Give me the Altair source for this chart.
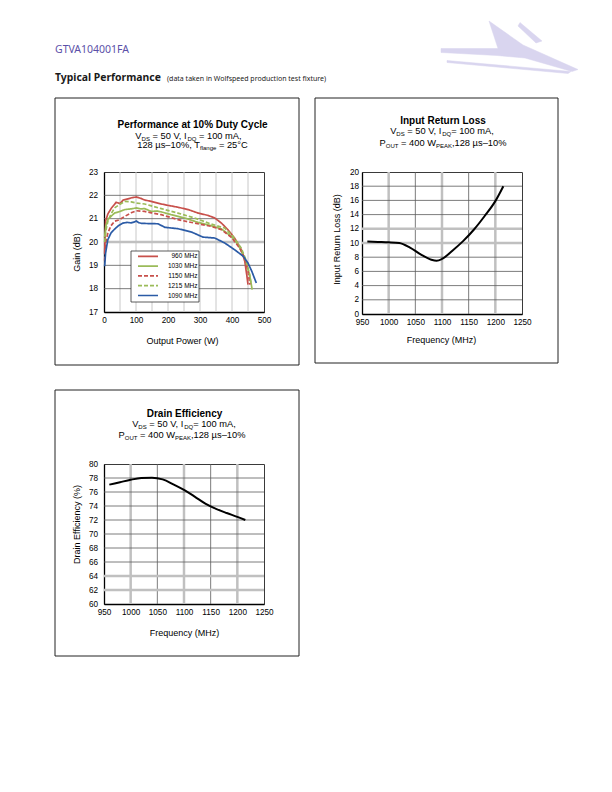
import altair as alt
import pandas as pd

FONT = "Liberation Sans"

# ------------------------------------------------------------------ data
gain_series = ["960 MHz", "1030 MHz", "1150 MHz", "1215 MHz", "1090 MHz"]

power_960 = [2, 5, 12, 23, 38, 50, 60, 75, 88, 101, 115, 127, 148, 179, 200, 231, 263, 294, 325, 346, 367, 387, 408, 429, 440, 446, 450]
gain_960 = [19.5, 20.9, 21.2, 21.45, 21.7, 21.65, 21.8, 21.85, 21.9, 21.93, 21.87, 21.8, 21.74, 21.63, 21.57, 21.49, 21.39, 21.24, 21.14, 21.03, 20.81, 20.53, 20.17, 19.67, 19.17, 18.6, 18.17]

power_1030 = [2, 6, 12, 22, 33, 48, 65, 85, 101, 115, 127, 148, 165, 179, 210, 252, 294, 335, 367, 398, 419, 440, 455, 463]
gain_1030 = [20.2, 20.7, 20.96, 21.1, 21.24, 21.3, 21.39, 21.42, 21.46, 21.42, 21.43, 21.31, 21.33, 21.29, 21.17, 21.03, 20.84, 20.7, 20.56, 20.24, 19.89, 19.31, 18.6, 17.96]

power_1150 = [2, 6, 12, 22, 33, 48, 65, 85, 101, 127, 148, 179, 231, 283, 335, 367, 398, 424, 440, 450, 456]
gain_1150 = [19.2, 20.0, 20.39, 20.7, 20.89, 20.95, 21.1, 21.25, 21.34, 21.31, 21.25, 21.17, 20.96, 20.81, 20.67, 20.53, 20.2, 19.74, 19.31, 18.74, 18.17]

power_1215 = [2, 6, 12, 22, 33, 48, 65, 85, 101, 127, 148, 179, 231, 283, 335, 377, 403, 429, 445, 455, 460]
gain_1215 = [20.0, 20.5, 20.89, 21.2, 21.46, 21.6, 21.74, 21.72, 21.67, 21.63, 21.55, 21.43, 21.24, 21.03, 20.77, 20.6, 20.24, 19.74, 19.17, 18.6, 18.17]

power_1090 = [2, 5, 12, 22, 33, 45, 59, 72, 85, 95, 101, 108, 117, 140, 169, 190, 231, 273, 309, 346, 377, 408, 435, 450, 462, 476]
gain_1090 = [18.96, 19.53, 20.1, 20.39, 20.55, 20.7, 20.81, 20.84, 20.82, 20.86, 20.9, 20.83, 20.8, 20.79, 20.78, 20.63, 20.57, 20.43, 20.21, 20.17, 19.96, 19.67, 19.39, 19.1, 18.74, 18.24]

irl_freq = [960, 980, 1000, 1020, 1040, 1060, 1080, 1090, 1100, 1120, 1140, 1160, 1180, 1200, 1215]
irl_db = [10.2, 10.15, 10.1, 10.0, 9.35, 8.4, 7.65, 7.5, 7.75, 8.95, 10.3, 11.9, 13.8, 15.9, 18.0]

de_freq = [960, 980, 1000, 1020, 1040, 1060, 1080, 1100, 1120, 1140, 1160, 1180, 1200, 1215]
de_pct = [77.05, 77.4, 77.75, 78.0, 78.05, 77.8, 77.1, 76.3, 75.35, 74.35, 73.6, 73.0, 72.45, 72.0]

# tick values
gain_x_ticks = [0, 100, 200, 300, 400, 500]
gain_y_ticks = [17, 18, 19, 20, 21, 22, 23]
freq_ticks = [950, 1000, 1050, 1100, 1150, 1200, 1250]
irl_y_ticks = [0, 2, 4, 6, 8, 10, 12, 14, 16, 18, 20]
de_y_ticks = [60, 62, 64, 66, 68, 70, 72, 74, 76, 78, 80]

# grid line values
gain_vgrid = [50, 100, 150, 200, 250, 300, 350, 400, 450]
gain_hgrid_dark = [18, 19, 21, 22]
gain_hgrid_thick = [20]
freq_grid_thick = [1000, 1100, 1200]
freq_grid_thin = [1050, 1150]
irl_grid_thick = [10, 12]
irl_grid_thin = [2, 4, 6, 8, 14, 16, 18]
de_grid_thick = [62, 64]
de_grid_thin = [66, 68, 70, 72, 74, 76, 78]

# styles
series_colors = ["#c8504b", "#9bbb59", "#c8504b", "#9bbb59", "#2b5ba6"]
series_dash = [[1, 0], [1, 0], [4, 2], [4, 2], [1, 0]]
THICK_GREY = "#c0c0c0"
THIN_DARK = "#5a5a5a"
LOGO_PATH = ("M48,5 L82,29 L137,53.5 L131,55.5 L84,42 L56,39.5 L0,36.5 L0,32.5 L57,32.5 Z "
             "M79,6.5 L101,25 L95,27 L77,10 Z "
             "M6,44.5 L130,55.5 L127,57.5 L6,46.5 Z")

# ------------------------------------------------------------------ helpers
ARIAL = {' ': 278, '=': 584, ',': 278, '.': 278, '%': 889, '°': 400, 'µ': 576, '–': 556,
         '(': 333, ')': 333, 'A': 667, 'B': 667, 'C': 722, 'D': 722, 'E': 667, 'F': 611,
         'G': 778, 'H': 722, 'I': 278, 'K': 667, 'L': 556, 'M': 833, 'O': 778, 'P': 667,
         'Q': 778, 'R': 722, 'S': 667, 'T': 611, 'U': 722, 'V': 667, 'W': 944, 'a': 556,
         'c': 500, 'e': 556, 'f': 278, 'g': 556, 'l': 222, 'm': 833, 'n': 556, 's': 500,
         't': 278, 'y': 500, 'u': 556, 'o': 556, 'r': 333, 'i': 222, 'd': 556, 'p': 556,
         'w': 722, 'k': 500}
for _d in "0123456789":
    ARIAL[_d] = 556


def tw(s, fs):
    return sum(ARIAL.get(c, 556) for c in s) * fs / 1000.0


ONE = pd.DataFrame({"k": [0]})


def txt(x, y, s, size, weight="normal", align="left", color="black", font=FONT, baseline="alphabetic"):
    return alt.Chart(ONE).mark_text(
        align=align, baseline=baseline, fontSize=size, fontWeight=weight, font=font, color=color
    ).encode(x=alt.value(x), y=alt.value(y), text=alt.value(s))


def rich_line(segs, cx, yb, size=9.3, sub_size=6.0, sub_shift=2.0):
    total = sum(tw(t, sub_size if sb else size) for t, sb in segs)
    x = cx - total / 2
    out = []
    for t, sb in segs:
        fs = sub_size if sb else size
        lead = len(t) - len(t.lstrip(' '))
        x += lead * 278 * fs / 1000.0
        body = t.strip(' ')
        if body:
            out.append(txt(x, yb + (sub_shift if sb else 0), body, fs))
        x += tw(t.lstrip(' '), fs)
    return out


def border(x1, y1, x2, y2):
    return alt.Chart(ONE).mark_rect(filled=False, stroke="#222222", strokeWidth=1).encode(
        x=alt.value(x1), x2=alt.value(x2), y=alt.value(y1), y2=alt.value(y2))


def vrules(vals, xscale, xaxis, color, width, h):
    return alt.Chart(pd.DataFrame({"v": vals})).mark_rule(color=color, strokeWidth=width).encode(
        x=alt.X("v:Q", scale=xscale, axis=xaxis), y=alt.value(0), y2=alt.value(h))


def hrules(vals, yscale, yaxis, color, width, w):
    return alt.Chart(pd.DataFrame({"v": vals})).mark_rule(color=color, strokeWidth=width).encode(
        y=alt.Y("v:Q", scale=yscale, axis=yaxis), x=alt.value(0), x2=alt.value(w))


def x_axis(vals, title, tx, ty):
    return alt.Axis(values=vals, title=title, titleX=tx, titleY=ty, titleAlign="center",
                    titleBaseline="alphabetic", labelPadding=4, format="d",
                    labelOverlap=False, labelFlush=False)


def y_axis(vals, title, tx, ty, pad):
    return alt.Axis(values=vals, title=title, titleX=tx, titleY=ty, titleAngle=-90,
                    titleAlign="center", titleBaseline="middle", labelPadding=pad,
                    format="d", labelOverlap=False, labelFlush=False)


# ------------------------------------------------------------------ panel 1: gain
W1, H1 = 160, 140
g_xs = alt.Scale(domain=[0, 500], nice=False)
g_ys = alt.Scale(domain=[17, 23], nice=False, zero=False)
g_xa = x_axis(gain_x_ticks, "Output Power (W)", 78, 31)
g_ya = y_axis(gain_y_ticks, "Gain (dB)", -28, 80, 6.5)

gain_df = pd.concat([
    pd.DataFrame({"series": gain_series[0], "power": power_960, "gain": gain_960}),
    pd.DataFrame({"series": gain_series[1], "power": power_1030, "gain": gain_1030}),
    pd.DataFrame({"series": gain_series[2], "power": power_1150, "gain": gain_1150}),
    pd.DataFrame({"series": gain_series[3], "power": power_1215, "gain": gain_1215}),
    pd.DataFrame({"series": gain_series[4], "power": power_1090, "gain": gain_1090}),
])

gain_lines = alt.Chart(gain_df).mark_line(strokeWidth=1.7).encode(
    x=alt.X("power:Q", scale=g_xs, axis=g_xa),
    y=alt.Y("gain:Q", scale=g_ys, axis=g_ya),
    color=alt.Color("series:N", scale=alt.Scale(domain=gain_series, range=series_colors), legend=None),
    strokeDash=alt.StrokeDash("series:N", scale=alt.Scale(domain=gain_series, range=series_dash), legend=None),
    detail="series:N",
)

legend_layers = [alt.Chart(ONE).mark_rect(fill="white", stroke="#333333", strokeWidth=0.8).encode(
    x=alt.value(27), x2=alt.value(95), y=alt.value(79), y2=alt.value(130))]
for i, name in enumerate(gain_series):
    ly = 84.3 + i * 9.8
    legend_layers.append(alt.Chart(ONE).mark_rule(
        color=series_colors[i], strokeDash=series_dash[i], strokeWidth=1.7).encode(
        x=alt.value(34), x2=alt.value(54), y=alt.value(ly)))
    legend_layers.append(txt(93.5, ly, name, 6.5, align="right", baseline="middle"))

p1_text = [
    alt.Chart(ONE).mark_rect(fill="white", opacity=0.01).encode(
        x=alt.value(-95), x2=alt.value(-94), y=alt.value(-163), y2=alt.value(-162)),
    alt.Chart(ONE).mark_point(shape=LOGO_PATH, size=4, filled=True, fill="#d9d5ef",
                              stroke="#d9d5ef", strokeWidth=0.5, opacity=1).encode(
        x=alt.value(337), y=alt.value(-156)),
    txt(-49, -119.5, "GTVA104001FA", 10.5, color="#5b50a8", font="Noto Sans"),
    txt(-49, -91, "Typical Performance", 10.4, weight="bold", color="#1a1a1a", font="Noto Sans"),
    txt(63, -91, "(data taken in Wolfspeed production test fixture)", 7.0, color="#1a1a1a", font="Noto Sans"),
    border(-49, -74, 195, 193),
    txt(88.5, -44.5, "Performance at 10% Duty Cycle", 10, weight="bold", align="center"),
] + rich_line([("V", False), ("DS", True), (" = 50 V, I", False), ("DQ", True), (" = 100 mA,", False)], 84.5, -33.5) \
  + rich_line([("128 µs–10%, T", False), ("flange", True), (" = 25°C", False)], 88.5, -24.3)

p1 = alt.layer(
    vrules(gain_vgrid, g_xs, g_xa, "#c8c8c8", 1, H1),
    hrules(gain_hgrid_dark, g_ys, g_ya, THIN_DARK, 0.8, W1),
    hrules(gain_hgrid_thick, g_ys, g_ya, THICK_GREY, 2.5, W1),
    gain_lines,
    *legend_layers,
    *p1_text,
).properties(width=W1, height=H1)

# ------------------------------------------------------------------ panel 2: input return loss
W2, H2 = 160, 142
f_xs = alt.Scale(domain=[950, 1250], nice=False, zero=False)
i_ys = alt.Scale(domain=[0, 20], nice=False)
i_xa = x_axis(freq_ticks, "Frequency (MHz)", 79, 28.7)
i_ya = y_axis(irl_y_ticks, "Input Return Loss (dB)", -26, 67, 3.5)

irl_line = alt.Chart(pd.DataFrame({"freq": irl_freq, "irl": irl_db})).mark_line(
    color="black", strokeWidth=2, interpolate="monotone").encode(
    x=alt.X("freq:Q", scale=f_xs, axis=i_xa),
    y=alt.Y("irl:Q", scale=i_ys, axis=i_ya),
)

p2_text = [
    border(-47, -74, 196, 191),
    txt(81, -48.5, "Input Return Loss", 10, weight="bold", align="center"),
] + rich_line([("V", False), ("DS", True), (" = 50 V, I", False), ("DQ", True), ("= 100 mA,", False)], 80, -38) \
  + rich_line([("P", False), ("OUT", True), (" = 400 W", False), ("PEAK", True), (",128 µs–10%", False)], 81, -26.5)

p2 = alt.layer(
    vrules(freq_grid_thin, f_xs, i_xa, THIN_DARK, 0.8, H2),
    vrules(freq_grid_thick, f_xs, i_xa, THICK_GREY, 2.5, H2),
    hrules(irl_grid_thin, i_ys, i_ya, THIN_DARK, 0.8, W2),
    hrules(irl_grid_thick, i_ys, i_ya, THICK_GREY, 2.5, W2),
    irl_line,
    *p2_text,
).properties(width=W2, height=H2)

# ------------------------------------------------------------------ panel 3: drain efficiency
W3, H3 = 160, 140
d_ys = alt.Scale(domain=[60, 80], nice=False, zero=False)
d_xa = x_axis(freq_ticks, "Frequency (MHz)", 80, 31.7)
d_ya = y_axis(de_y_ticks, "Drain Efficiency (%)", -28, 60, 6.5)

de_line = alt.Chart(pd.DataFrame({"freq": de_freq, "de": de_pct})).mark_line(
    color="black", strokeWidth=2, interpolate="monotone").encode(
    x=alt.X("freq:Q", scale=f_xs, axis=d_xa),
    y=alt.Y("de:Q", scale=d_ys, axis=d_ya),
)

p3_text = [
    border(-49, -74, 195, 192),
    txt(80.5, -47.5, "Drain Efficiency", 10, weight="bold", align="center"),
] + rich_line([("V", False), ("DS", True), (" = 50 V, I", False), ("DQ", True), ("= 100 mA,", False)], 80, -37.5) \
  + rich_line([("P", False), ("OUT", True), (" = 400 W", False), ("PEAK", True), (",128 µs–10%", False)], 78, -26)

p3 = alt.layer(
    vrules(freq_grid_thin, f_xs, d_xa, THIN_DARK, 0.8, H3),
    vrules(freq_grid_thick, f_xs, d_xa, THICK_GREY, 2.5, H3),
    hrules(de_grid_thin, d_ys, d_ya, THIN_DARK, 0.8, W3),
    hrules(de_grid_thick, d_ys, d_ya, THICK_GREY, 2.5, W3),
    de_line,
    *p3_text,
).properties(width=W3, height=H3)

# ------------------------------------------------------------------ assemble
chart = alt.concat(
    p1, p2, p3, columns=2, spacing=alt.RowColnumber(row=150, column=98), bounds="flush"
).properties(
    padding=0, background="white"
).configure_view(
    stroke="#3a3a3a", strokeWidth=1
).configure_axis(
    ticks=False, grid=False, domainColor="black", domainWidth=1.3,
    labelFont=FONT, labelFontSize=8.2, labelColor="black",
    titleFont=FONT, titleFontSize=9, titleFontWeight="normal", titleColor="black",
)

chart.save("out.html", embed_options={"renderer": "svg", "actions": False})
